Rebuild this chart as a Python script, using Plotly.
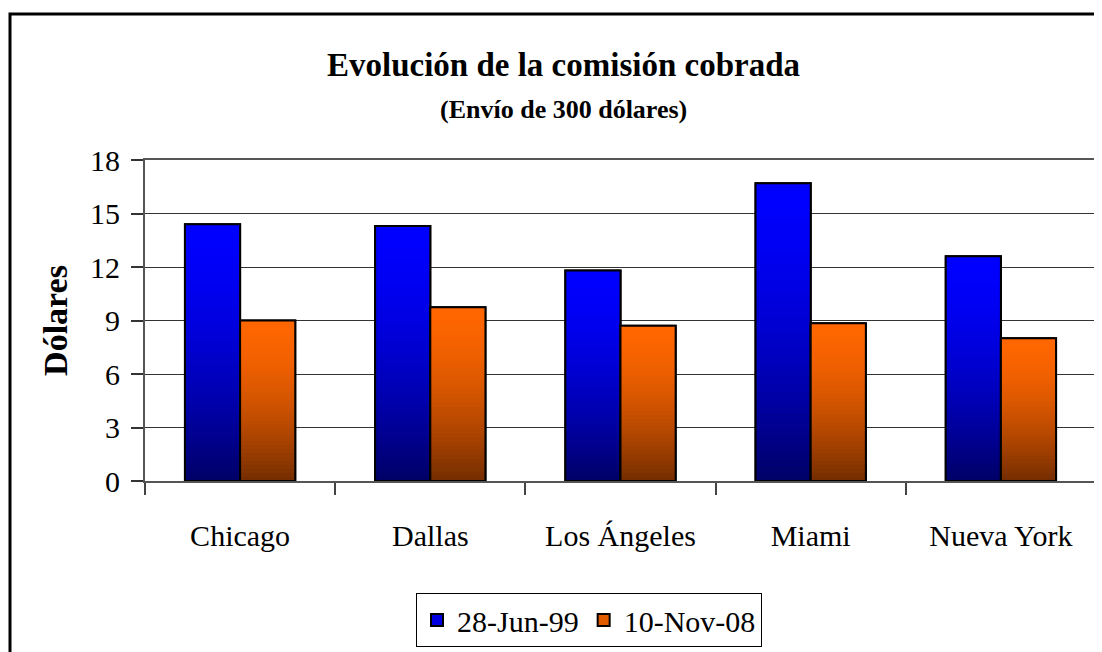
import plotly.graph_objects as go

# ---- data ----
ciudades = ["Chicago", "Dallas", "Los Ángeles", "Miami", "Nueva York"]
series_names = ["28-Jun-99", "10-Nov-08"]
comision_jun99 = [14.4, 14.3, 11.8, 16.7, 12.6]
comision_nov08 = [9.0, 9.75, 8.7, 8.85, 8.0]
y_ticks = [0, 3, 6, 9, 12, 15, 18]

# ---- styles ----
FONT = "Liberation Serif"
OFF = 8  # page body margin
W, H = 1102, 652
# plot area in page pixels: x 145..1096, y 160..481
L = 145 - OFF
T = 160 - OFF
R = W - (1096 - OFF)
B = H - (481 - OFF)
PW, PH = W - L - R, H - T - B

def px_x(p):
    return (p - OFF - L) / PW

def px_y(p):
    return (H - B - (p - OFF)) / PH

series = [
    (series_names[0], comision_jun99, (0, 0, 255), (0, 0, 105), "#0000E0"),
    (series_names[1], comision_nov08, (255, 102, 0), (118, 46, 0), "#E05A00"),
]
K = 40  # gradient steps

fig = go.Figure()
for name, vals, top, bot, legc in series:
    # legend / base trace
    fig.add_trace(go.Bar(
        x=ciudades, y=vals, name=name, offsetgroup=name,
        marker=dict(color=legc, line=dict(color="black", width=2)),
        showlegend=True, hoverinfo="skip",
    ))
    # vertical gradient: each layer spans from a fraction of the value up to the value
    for k in range(K):
        t = k / (K - 1)
        f = 1 - (1 - t) ** 1.6
        c = tuple(round(b + (a - b) * f) for a, b in zip(top, bot))
        frac = k / K
        fig.add_trace(go.Bar(
            x=ciudades,
            y=[v * (1 - frac) for v in vals],
            base=[v * frac for v in vals],
            offsetgroup=name,
            marker=dict(color="rgb(%d,%d,%d)" % c, line=dict(width=0)),
            showlegend=False, hoverinfo="skip",
        ))
    # outline on top
    fig.add_trace(go.Bar(
        x=ciudades, y=vals, offsetgroup=name,
        marker=dict(color="rgba(0,0,0,0)", line=dict(color="black", width=2)),
        showlegend=False, hovertemplate="%{x}: %{y}<extra>" + name + "</extra>",
    ))

fig.update_layout(
    width=W, height=H,
    margin=dict(l=L, r=R, t=T, b=B),
    paper_bgcolor="white", plot_bgcolor="white",
    barmode="group", bargap=0.42, bargroupgap=0,
    font=dict(family=FONT, size=30, color="black"),
    showlegend=True,
    legend=dict(
        orientation="h", x=px_x(416), y=px_y(593), xanchor="left", yanchor="top",
        bgcolor="white", bordercolor="black", borderwidth=1,
        font=dict(family=FONT, size=30, color="black"),
        traceorder="normal",
    ),
    xaxis=dict(
        type="category", showline=True, linecolor="#555", linewidth=2,
        mirror=True, ticks="outside", ticklen=12, tickcolor="#444", tickwidth=1.5,
        tickson="boundaries", showgrid=False,
        tickfont=dict(family=FONT, size=30), ticklabelstandoff=27,
    ),
    yaxis=dict(
        range=[0, 18], tickvals=y_ticks, showline=True, linecolor="#555", linewidth=2,
        mirror=True, ticks="outside", ticklen=12, tickcolor="#333", tickwidth=1.5,
        showgrid=True, gridcolor="#333", gridwidth=1, zeroline=False,
        tickfont=dict(family=FONT, size=30), ticklabelstandoff=5,
        title=dict(text="<b>Dólares</b>", font=dict(family=FONT, size=34), standoff=12),
    ),
    annotations=[
        dict(text="<b>Evolución de la comisión cobrada</b>", xref="paper", yref="paper",
             x=px_x(563), y=px_y(65), xanchor="center", yanchor="middle",
             showarrow=False, font=dict(family=FONT, size=33, color="black")),
        dict(text="<b>(Envío de 300 dólares)</b>", xref="paper", yref="paper",
             x=px_x(563), y=px_y(109), xanchor="center", yanchor="middle",
             showarrow=False, font=dict(family=FONT, size=26, color="black")),
    ],
    shapes=[
        dict(type="rect", xref="paper", yref="paper",
             x0=px_x(10), x1=px_x(1130), y0=px_y(700), y1=px_y(14),
             line=dict(color="black", width=3), fillcolor="rgba(0,0,0,0)", layer="above"),
    ],
)

fig.write_html("out.html")
